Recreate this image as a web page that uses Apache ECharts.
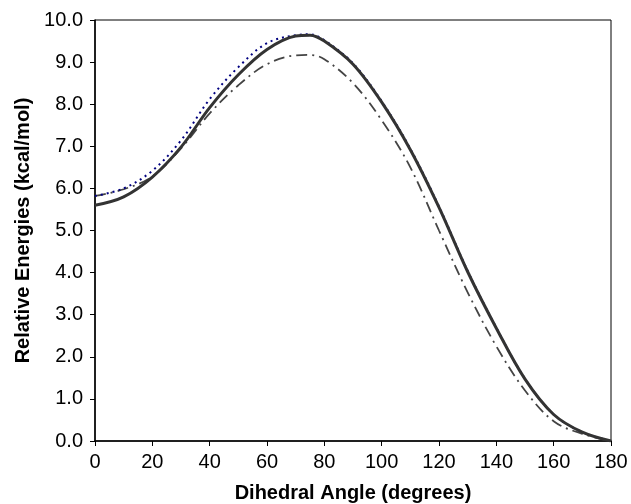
<!DOCTYPE html>
<html><head><meta charset="utf-8">
<script src="https://cdn.jsdelivr.net/npm/echarts@6/dist/echarts.min.js"></script>
<style>html,body{margin:0;padding:0;background:#fff}#c{width:631px;height:504px}</style>
</head><body><div id="c"></div>
<script>
const angles = [0, 10, 20, 30, 40, 50, 60, 70, 75, 80, 90, 100, 110, 120, 130, 140, 150, 160, 170, 180];
const solidVals = [5.60, 5.80, 6.27, 6.98, 7.92, 8.70, 9.30, 9.62, 9.64, 9.50, 8.95, 8.05, 6.92, 5.55, 4.02, 2.68, 1.47, 0.63, 0.21, 0.0];
const dottedVals = [5.82, 6.00, 6.42, 7.14, 8.12, 8.88, 9.45, 9.64, 9.66, 9.52, 8.97, 8.07, 6.94, 5.57, 4.04, 2.69, 1.48, 0.63, 0.21, 0.0];
const dashDotVals = [5.82, 5.98, 6.28, 6.95, 7.78, 8.45, 8.95, 9.16, 9.17, 9.07, 8.50, 7.62, 6.50, 5.00, 3.53, 2.25, 1.20, 0.47, 0.17, 0.0];
const xTicks = [0, 20, 40, 60, 80, 100, 120, 140, 160, 180];
const yTicks = [0, 1, 2, 3, 4, 5, 6, 7, 8, 9, 10];

const pts = v => angles.map((a, i) => [a, v[i]]);
const font = 'Liberation Sans, Arial, sans-serif';
const chart = echarts.init(document.getElementById('c'), null, {renderer: 'canvas'});
chart.setOption({
  animation: false,
  grid: {left: 95, right: 20, top: 20, bottom: 63, containLabel: false, outerBoundsMode: 'none',
         show: true, borderColor: '#000', borderWidth: 1, backgroundColor: 'transparent'},
  xAxis: {
    type: 'value', min: xTicks[0], max: xTicks[xTicks.length - 1], interval: 20,
    name: 'Dihedral Angle (degrees)', nameLocation: 'middle', nameGap: 42,
    nameTextStyle: {fontFamily: font, fontWeight: 'bold', fontSize: 20, color: '#000'},
    axisLine: {lineStyle: {color: '#000', width: 1.5}},
    axisTick: {show: true, length: 5, lineStyle: {color: '#000'}},
    axisLabel: {fontFamily: font, fontSize: 20, color: '#000', margin: 11},
    splitLine: {show: false}
  },
  yAxis: {
    type: 'value', min: yTicks[0], max: yTicks[yTicks.length - 1], interval: 1,
    name: 'Relative Energies (kcal/mol)', nameLocation: 'middle', nameGap: 62,
    nameTextStyle: {fontFamily: font, fontWeight: 'bold', fontSize: 20, color: '#000'},
    axisLine: {show: true, lineStyle: {color: '#000', width: 1.5}},
    axisTick: {show: true, length: 5, lineStyle: {color: '#000'}},
    axisLabel: {fontFamily: font, fontSize: 20, color: '#000', margin: 12, formatter: v => v.toFixed(1)},
    splitLine: {show: false}
  },
  series: [
    {type: 'line', data: pts(dashDotVals), smooth: 0.35, showSymbol: false, z: 2,
     lineStyle: {color: '#444', width: 1.8, type: [11, 5, 2, 5]}},
    {type: 'line', data: pts(dottedVals), smooth: 0.35, showSymbol: false, z: 3,
     lineStyle: {color: '#000080', width: 2, type: [2, 4]}},
    {type: 'line', data: pts(solidVals), smooth: 0.35, showSymbol: false, z: 4,
     lineStyle: {color: '#333', width: 3}}
  ]
});
</script></body></html>
